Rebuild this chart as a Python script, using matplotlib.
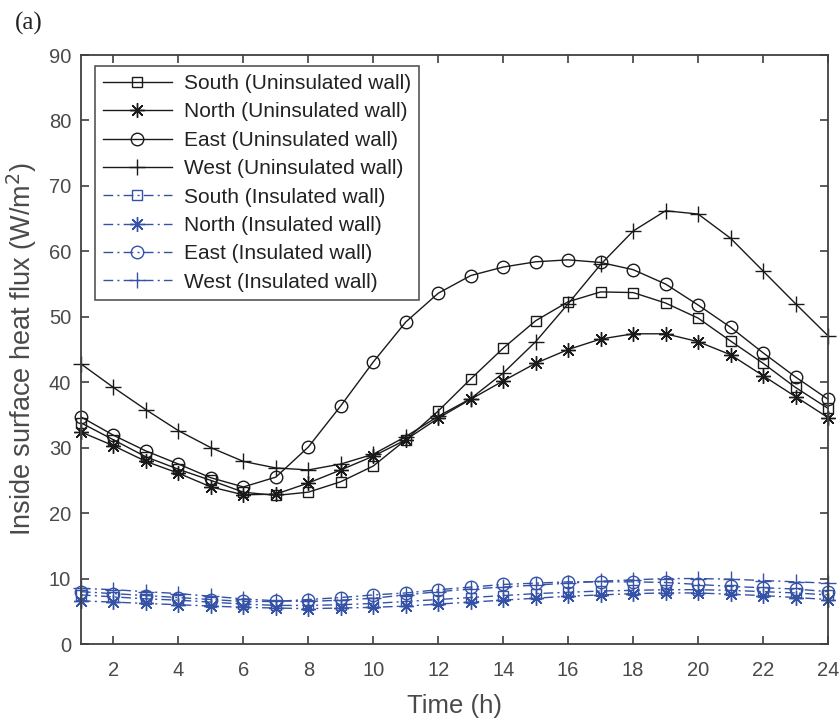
import matplotlib
matplotlib.use("Agg")
import matplotlib.pyplot as plt

hours = list(range(1, 25))

south_uninsulated = [33.8, 31.2, 28.6, 26.7, 25.0, 23.2, 22.7, 23.2, 24.8, 27.2, 31.2, 35.6,
                     40.5, 45.2, 49.4, 52.3, 53.8, 53.7, 52.1, 49.8, 46.3, 42.9, 39.2, 36.0]
north_uninsulated = [32.4, 30.3, 27.9, 26.1, 24.0, 22.8, 22.9, 24.6, 26.6, 28.7, 31.2, 34.5,
                     37.4, 40.2, 42.9, 45.0, 46.6, 47.4, 47.4, 46.2, 44.2, 41.0, 37.8, 34.6]
east_uninsulated = [34.7, 31.9, 29.5, 27.5, 25.4, 24.0, 25.5, 30.1, 36.4, 43.1, 49.2, 53.6,
                    56.3, 57.6, 58.4, 58.7, 58.3, 57.2, 55.0, 51.8, 48.4, 44.5, 40.8, 37.4]
west_uninsulated = [42.8, 39.2, 35.8, 32.6, 30.0, 27.9, 26.9, 26.6, 27.5, 29.0, 31.7, 34.8,
                    37.5, 41.4, 46.2, 52.0, 58.0, 63.1, 66.2, 65.7, 62.0, 57.0, 52.0, 47.1]

south_insulated = [7.5, 7.2, 6.9, 6.7, 6.4, 6.1, 5.9, 5.9, 6.0, 6.2, 6.5, 6.8,
                   7.1, 7.4, 7.7, 7.9, 8.1, 8.2, 8.3, 8.3, 8.2, 8.0, 7.8, 7.5]
north_insulated = [6.6, 6.4, 6.2, 6.0, 5.8, 5.6, 5.5, 5.4, 5.5, 5.6, 5.8, 6.1,
                   6.4, 6.7, 7.0, 7.3, 7.5, 7.7, 7.8, 7.8, 7.6, 7.4, 7.1, 6.8]
east_insulated = [8.0, 7.7, 7.4, 7.1, 6.8, 6.5, 6.5, 6.8, 7.1, 7.5, 7.8, 8.3,
                  8.7, 9.1, 9.3, 9.5, 9.5, 9.5, 9.4, 9.1, 8.8, 8.6, 8.4, 8.0]
west_insulated = [8.5, 8.3, 8.0, 7.7, 7.3, 6.9, 6.6, 6.5, 6.7, 7.0, 7.5, 8.0,
                  8.4, 8.7, 9.0, 9.3, 9.6, 9.8, 10.0, 10.0, 9.9, 9.7, 9.5, 9.3]

x_ticks = list(range(2, 25, 2))
y_ticks = list(range(0, 91, 10))

plt.rcParams["font.family"] = ["Liberation Sans", "DejaVu Sans"]

BLACK = "#1a1a1a"
BLUE = "#3552a6"
AXIS_GREY = "#404040"
TEXT_GREY = "#4a4a4a"
ASTERISK = (8, 2, 0)
DASH_DOT = (0, (7, 3, 1.5, 3))

fig = plt.figure(figsize=(8.39, 7.19), dpi=100)
ax = fig.add_axes([0.0965, 0.1043, 0.8904, 0.8192])

series = [
    (south_uninsulated, "s", 7.5, "-", BLACK, "South (Uninsulated wall)"),
    (north_uninsulated, ASTERISK, 10.5, "-", BLACK, "North (Uninsulated wall)"),
    (east_uninsulated, "o", 9.0, "-", BLACK, "East (Uninsulated wall)"),
    (west_uninsulated, "+", 12.0, "-", BLACK, "West (Uninsulated wall)"),
    (south_insulated, "s", 7.5, DASH_DOT, BLUE, "South (Insulated wall)"),
    (north_insulated, ASTERISK, 10.5, DASH_DOT, BLUE, "North (Insulated wall)"),
    (east_insulated, "o", 9.0, DASH_DOT, BLUE, "East (Insulated wall)"),
    (west_insulated, "+", 12.0, DASH_DOT, BLUE, "West (Insulated wall)"),
]

for values, marker, msize, ls, color, label in series:
    ax.plot(hours, values, linestyle=ls, color=color, linewidth=1.0,
            marker=marker, markersize=msize, markerfacecolor="none",
            markeredgecolor=color, markeredgewidth=1.0, label=label,
            clip_on=False)

ax.set_xlim(1, 24)
ax.set_ylim(0, 90)
ax.set_xticks(x_ticks)
ax.set_yticks(y_ticks)

for spine in ax.spines.values():
    spine.set_color(AXIS_GREY)
    spine.set_linewidth(1.3)

ax.tick_params(axis="both", which="both", direction="in", length=6, width=1.2,
               color=AXIS_GREY, labelcolor=TEXT_GREY, labelsize=14.5,
               top=True, right=True)
ax.tick_params(axis="y", pad=7)
ax.tick_params(axis="x", pad=12)

ax.set_xlabel("Time (h)", fontsize=18.5, color=TEXT_GREY, labelpad=10)
ax.set_ylabel("Inside surface heat flux (W/m$^2$)", fontsize=19.5, color=TEXT_GREY,
              labelpad=7)

leg = ax.legend(loc="upper left", bbox_to_anchor=(0.0187, 0.981), fontsize=15,
                handlelength=3.3, handletextpad=0.6, labelspacing=0.45,
                borderpad=0.38, borderaxespad=0.0, fancybox=False, framealpha=1.0)
leg.get_frame().set_edgecolor("#555555")
leg.get_frame().set_linewidth(1.2)
for txt in leg.get_texts():
    txt.set_color("#222222")

fig.text(0.018, 0.968, "(a)", fontsize=18, family=["Liberation Serif", "DejaVu Serif"],
         color="#222222", ha="left", va="center")

fig.savefig("out.png", dpi=100)
